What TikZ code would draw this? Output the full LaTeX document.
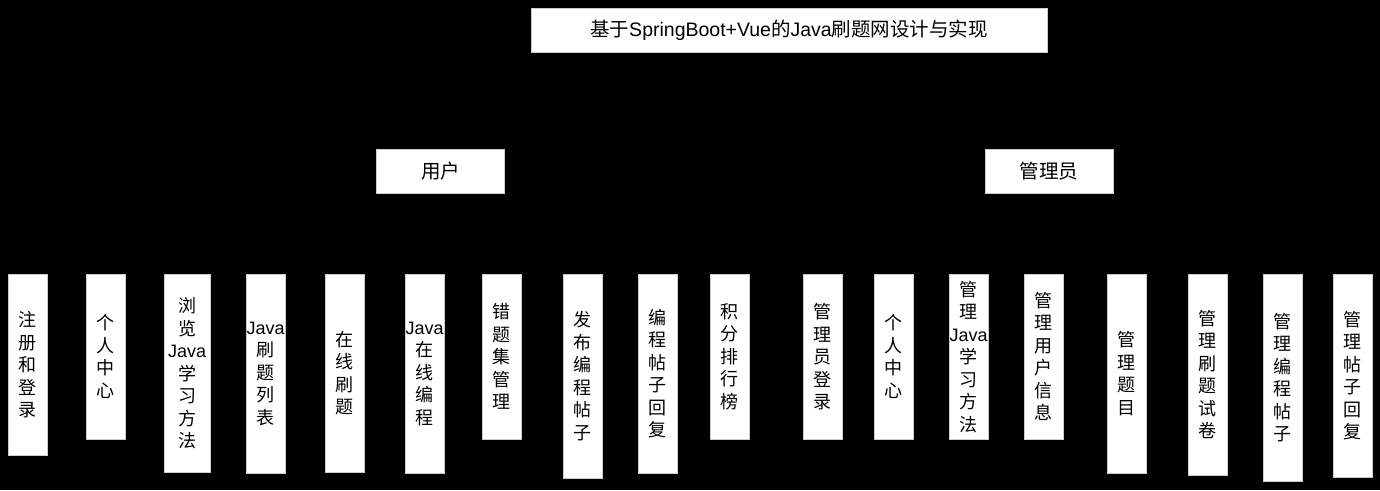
\documentclass[tikz,border=0pt]{standalone}
\usepackage{fontspec}
\setmainfont{Noto Sans CJK SC}
\newfontfamily\latinfont{Liberation Sans}
\usetikzlibrary{positioning, backgrounds}
\definecolor{bgclr}{rgb}{0, 0, 0}
\definecolor{boxclr}{rgb}{1, 1, 1}
\definecolor{rimclr}{rgb}{0.8, 0.8, 0.8}
\newcommand{\jv}{{\latinfont Java}}
\tikzset{ %
  ,every node/.style={font=\fontsize{18pt}{22.5pt}\selectfont}
  ,head/.style={draw=rimclr, fill=boxclr, inner sep=0, minimum width=516pt, minimum height=44pt, font=\fontsize{19.5pt}{23pt}\selectfont}
  ,role/.style={draw=rimclr, fill=boxclr, inner sep=0, minimum width=128pt, minimum height=44pt, font=\fontsize{19.5pt}{23pt}\selectfont}
  ,leaf/.style={draw=rimclr, fill=boxclr, inner sep=0, minimum width=39pt, anchor=north west, align=center}
  ,link/.style={draw=bgclr}
}
\begin{document}
\begin{tikzpicture}[x=1pt, y=-1pt]
  % top of the tree
  \node[head] (root) at (789,30) {基于{\latinfont SpringBoot+Vue}的\jv 刷题网设计与实现};
  \node[role] (user) at (440.5,171) {用户};
  \node[role] (admin) at (1049,171) {管理员};
  % user functions
  \node[leaf, minimum height=181pt] (u1) at (8,274) {注\\册\\和\\登\\录};
  \node[leaf, minimum height=165pt] (u2) at (86,274) {个\\人\\中\\心};
  \node[leaf, minimum height=198pt, minimum width=46pt] (u3) at (164,274) {浏\\览\\\jv\\学\\习\\方\\法};
  \node[leaf, minimum height=199pt] (u4) at (246,274) {\jv\\刷\\题\\列\\表};
  \node[leaf, minimum height=198pt] (u5) at (325,274) {在\\线\\刷\\题};
  \node[leaf, minimum height=199pt] (u6) at (405,274) {\jv\\在\\线\\编\\程};
  \node[leaf, minimum height=165pt] (u7) at (482,274) {错\\题\\集\\管\\理};
  \node[leaf, minimum height=204pt] (u8) at (563,274) {发\\布\\编\\程\\帖\\子};
  \node[leaf, minimum height=199pt] (u9) at (638,274) {编\\程\\帖\\子\\回\\复};
  \node[leaf, minimum height=165pt] (u10) at (710,274) {积\\分\\排\\行\\榜};
  % admin functions
  \node[leaf, minimum height=165pt] (a1) at (803,274) {管\\理\\员\\登\\录};
  \node[leaf, minimum height=165pt] (a2) at (874,274) {个\\人\\中\\心};
  \node[leaf, minimum height=165pt] (a3) at (949,274) {管\\理\\\jv\\学\\习\\方\\法};
  \node[leaf, minimum height=165pt] (a4) at (1024,274) {管\\理\\用\\户\\信\\息};
  \node[leaf, minimum height=199pt] (a5) at (1107,274) {管\\理\\题\\目};
  \node[leaf, minimum height=201pt] (a6) at (1188,274) {管\\理\\刷\\题\\试\\卷};
  \node[leaf, minimum height=207pt] (a7) at (1263,274) {管\\理\\编\\程\\帖\\子};
  \node[leaf, minimum height=203pt] (a8) at (1333,274) {管\\理\\帖\\子\\回\\复};
  % links, behind the boxes and in the background colour
  \begin{scope}[on background layer]
    \fill[bgclr] (0,0) rectangle (1380,490);
    \draw[link] (root) edge (user) (root) edge (admin);
    \foreach \i in {1,...,10} \draw[link] (user.south) -- (u\i.north);
    \foreach \i in {1,...,8} \draw[link] (admin.south) -- (a\i.north);
  \end{scope}
\end{tikzpicture}
\end{document}
